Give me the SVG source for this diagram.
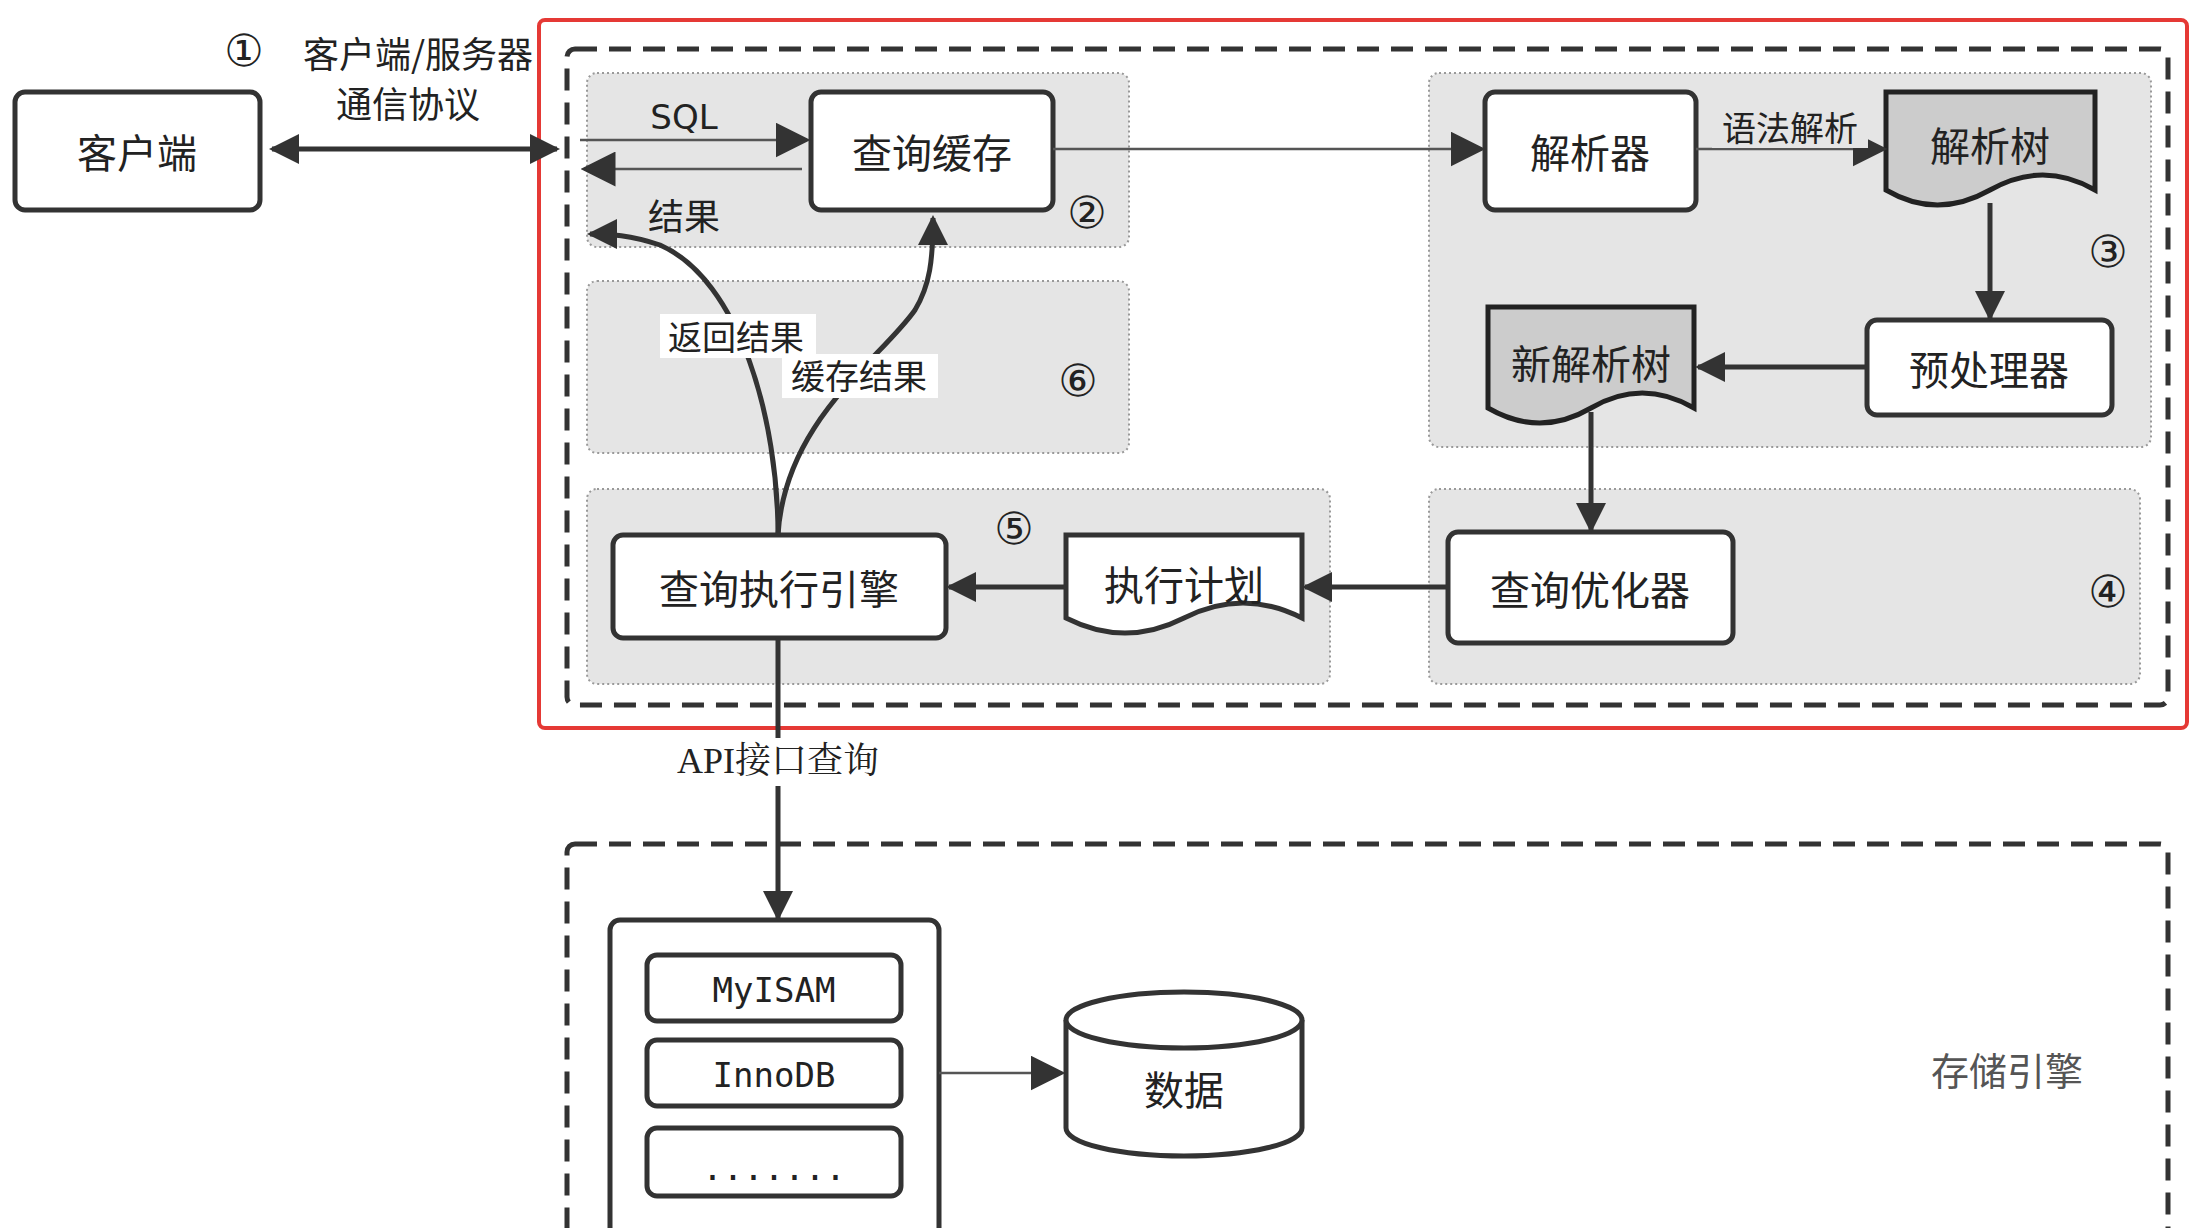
<svg xmlns="http://www.w3.org/2000/svg" width="2190" height="1228" viewBox="0 0 2190 1228">
<style>
text{font-family:"Noto Sans CJK SC","Liberation Sans",sans-serif;fill:#222;dominant-baseline:central;text-anchor:middle}
.box{fill:#fff;stroke:#333;stroke-width:5}
.doc{fill:#ccc;stroke:#222;stroke-width:5}
.grp{fill:#e5e5e5;stroke:#999;stroke-width:2;stroke-dasharray:2 3}
.dash{fill:none;stroke:#333;stroke-width:5;stroke-dasharray:22 12}
.c{stroke:#333;fill:none;stroke-width:5}
.t{stroke:#555;fill:none;stroke-width:2.5}
.bt{font-size:40px}
.lb{font-size:36px}
.cn{font-family:"DejaVu Sans",sans-serif;font-size:44px}
.mono{font-family:"DejaVu Sans Mono","Liberation Mono",monospace;font-size:34px}
</style>
<defs>
<marker id="a" viewBox="0 0 10 10" refX="9" refY="5" markerWidth="6" markerHeight="6" markerUnits="strokeWidth" orient="auto-start-reverse"><path d="M0,0L10,5L0,10z" fill="#333"/></marker>
<marker id="b" viewBox="0 0 10 10" refX="9" refY="5" markerWidth="14" markerHeight="14" markerUnits="strokeWidth" orient="auto-start-reverse"><path d="M0,0L10,5L0,10z" fill="#333"/></marker>
</defs>
<rect width="2190" height="1228" fill="#fff"/>
<rect x="539" y="20" width="1648" height="708" rx="6" fill="none" stroke="#e53935" stroke-width="4"/>
<rect class="dash" x="567" y="49" width="1601" height="656" rx="8"/>
<g id="g2"><rect class="grp" x="587" y="73" width="542" height="174" rx="10"/><text class="cn" x="1087" y="212">②</text></g>
<g id="g6"><rect class="grp" x="587" y="281" width="542" height="172" rx="10"/><text class="cn" x="1078" y="380">⑥</text></g>
<g id="g5"><rect class="grp" x="587" y="489" width="743" height="195" rx="10"/><text class="cn" x="1014" y="528">⑤</text></g>
<g id="g3"><rect class="grp" x="1429" y="73" width="722" height="374" rx="10"/><text class="cn" x="2108" y="251">③</text></g>
<g id="g4"><rect class="grp" x="1429" y="489" width="711" height="195" rx="10"/><text class="cn" x="2108" y="591">④</text></g>
<rect class="dash" x="567" y="844" width="1601" height="420" rx="8"/>
<g id="client"><rect class="box" x="15" y="92" width="245" height="118" rx="10"/><text class="bt" x="137" y="151">客户端</text></g>
<g id="cache"><rect class="box" x="811" y="92" width="242" height="118" rx="10"/><text class="bt" x="932" y="151">查询缓存</text></g>
<g id="parser"><rect class="box" x="1485" y="92" width="211" height="118" rx="10"/><text class="bt" x="1590" y="151">解析器</text></g>
<g id="ptree"><path class="doc" d="M1886,92H2095V190Q2043,160 1990,190T1886,190Z"/><text class="bt" x="1990" y="144">解析树</text></g>
<g id="pre"><rect class="box" x="1867" y="320" width="245" height="95" rx="10"/><text class="bt" x="1989" y="368">预处理器</text></g>
<g id="ntree"><path class="doc" d="M1488,307H1694V408Q1642,378 1591,408T1488,408Z"/><text class="bt" x="1591" y="362">新解析树</text></g>
<g id="opt"><rect class="box" x="1448" y="532" width="285" height="111" rx="10"/><text class="bt" x="1590" y="588">查询优化器</text></g>
<g id="plan"><path class="box" d="M1066,535H1302V618Q1243,588 1184,618T1066,618Z"/><text class="bt" x="1184" y="583">执行计划</text></g>
<g id="exec"><rect class="box" x="613" y="535" width="333" height="103" rx="10"/><text class="bt" x="779" y="587">查询执行引擎</text></g>
<g id="engines"><rect class="box" x="610" y="920" width="329" height="330" rx="10"/>
<rect class="box" x="647" y="955" width="254" height="66" rx="10"/><text class="mono" x="774" y="990">MyISAM</text>
<rect class="box" x="647" y="1040" width="254" height="66" rx="10"/><text class="mono" x="774" y="1075">InnoDB</text>
<rect class="box" x="647" y="1128" width="254" height="68" rx="10"/><text class="mono" x="774" y="1168">.......</text></g>
<g id="data"><path class="box" d="M1066,1020V1128A118,28 0 0 0 1302,1128V1020"/><ellipse class="box" cx="1184" cy="1020" rx="118" ry="28"/><text class="bt" x="1184" y="1088">数据</text></g>
<text x="2007" y="1068" style="font-size:38px;fill:#555">存储引擎</text>
<g id="connectors">
<line class="c" x1="272" y1="149" x2="557" y2="149" marker-start="url(#a)" marker-end="url(#a)"/>
<line class="t" x1="580" y1="140" x2="807" y2="140" marker-end="url(#b)"/>
<line class="t" x1="802" y1="169" x2="584" y2="169" marker-end="url(#b)"/>
<line class="t" x1="1053" y1="149" x2="1482" y2="149" marker-end="url(#b)"/>
<line class="t" x1="1696" y1="149" x2="1884" y2="149" marker-end="url(#b)"/>
<line class="c" x1="1990" y1="203" x2="1990" y2="318" marker-end="url(#a)"/>
<line class="c" x1="1867" y1="367" x2="1698" y2="367" marker-end="url(#a)"/>
<line class="c" x1="1591" y1="412" x2="1591" y2="530" marker-end="url(#a)"/>
<line class="c" x1="1448" y1="587" x2="1305" y2="587" marker-end="url(#a)"/>
<line class="c" x1="1066" y1="587" x2="949" y2="587" marker-end="url(#a)"/>
<path class="c" d="M778,535C778,420 740,280 660,245C630,235 610,234 590,234" marker-end="url(#a)"/>
<path class="c" d="M778,535C785,420 880,360 915,310C930,285 933,260 933,218" marker-end="url(#a)"/>
<line class="c" x1="778" y1="638" x2="778" y2="918" stroke-width="4" marker-end="url(#a)"/>
<line class="t" x1="939" y1="1073" x2="1062" y2="1073" marker-end="url(#b)"/>
</g>
<text class="cn" x="244" y="50">①</text>
<text style="font-size:36px" x="418" y="52">客户端/服务器</text>
<text style="font-size:36px" x="408" y="102">通信协议</text>
<text class="lb" x="684" y="117" style="font-family:'DejaVu Sans',sans-serif;font-size:34px">SQL</text>
<text class="lb" x="684" y="214">结果</text>
<rect x="1712" y="104" width="156" height="44" fill="#e5e5e5"/>
<text style="font-size:34px" x="1790" y="126">语法解析</text>
<rect x="660" y="314" width="156" height="44" fill="#fff"/>
<text style="font-size:34px" x="736" y="335">返回结果</text>
<rect x="782" y="354" width="156" height="44" fill="#fff"/>
<text style="font-size:34px" x="859" y="374">缓存结果</text>
<rect x="658" y="738" width="240" height="48" fill="#fff"/>
<text style="font-size:36px;font-family:'Liberation Serif','Noto Serif CJK SC','Noto Sans CJK SC',serif" x="778" y="761">API接口查询</text>
</svg>
